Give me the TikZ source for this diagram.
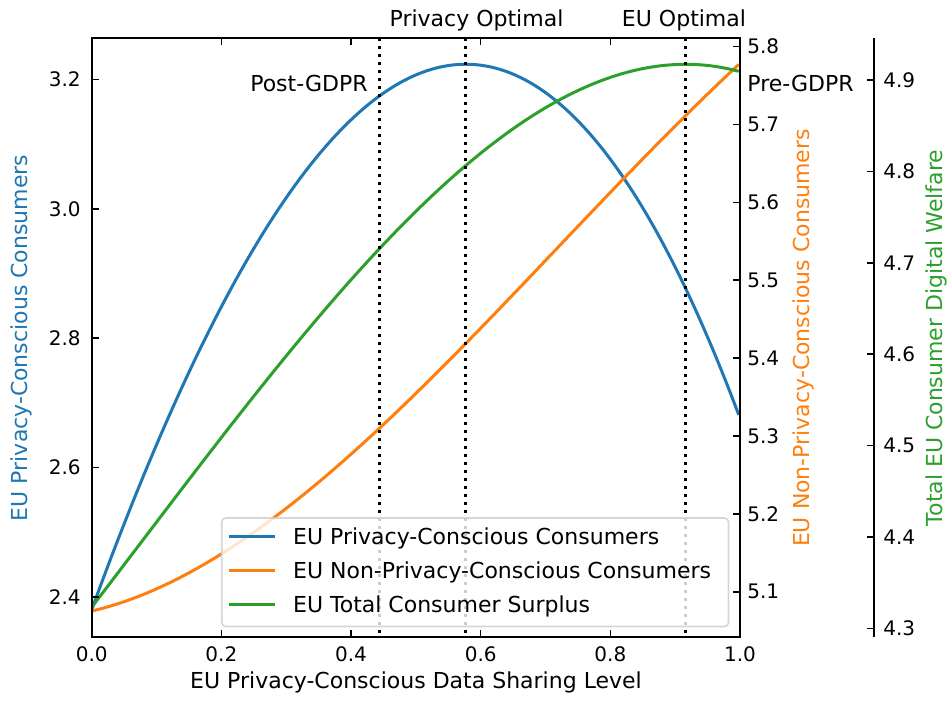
\documentclass[tikz,border=0pt]{standalone}
\usepackage{fontspec}
\setmainfont{DejaVu Sans}
\definecolor{mblue}{HTML}{1F77B4}
\definecolor{morange}{HTML}{FF7F0E}
\definecolor{mgreen}{HTML}{2CA02C}
\definecolor{legedge}{HTML}{CCCCCC}
\begin{document}
\begin{tikzpicture}[x=0.5pt,y=-0.5pt,
  declare function={
    fb(\t)=2.38+2.7487*\t-1.9261*\t*\t-0.5266*\t*\t*\t;
    fo(\t)=5.0752+0.1943*\t+0.9493*\t*\t-0.4401*\t*\t*\t;
    foa(\t)=5.0658+0.238*\t+0.8857*\t*\t-0.4108*\t*\t*\t;
    fg(\t)=0.278*fb(\t)+0.722*foa(\t)+0.004-0.011*\t;
    px(\t)=91.7+648.3*\t;
  },
  spine/.style={line width=0.8pt},
  tickmark/.style={line width=0.8pt},
  ticklab/.style={font=\fontsize{10}{12}\selectfont, inner sep=0pt},
  biglab/.style={font=\fontsize{11}{13}\selectfont, inner sep=0pt},
  curve/.style={line width=1.5pt, line join=round},
  vline/.style={line width=1.5pt, dash pattern=on 1.5pt off 2.5pt},
  legendframe/.style={draw=legedge, line width=0.8pt, fill=white, opacity=0.8, rounded corners=2pt},
]
\useasboundingbox (0,0) rectangle (952,701);

% curves
\begin{scope}
\clip (91.7,38) rectangle (740,637);
\draw[curve, mblue] plot[domain=0:1, samples=150] ({px(\x)},{596.7-(fb(\x)-2.4)*646.5});
\draw[curve, morange] plot[domain=0:1, samples=150] ({px(\x)},{591.7-(fo(\x)-5.1)*778.6});
\draw[curve, mgreen] plot[domain=0:1, samples=150] ({px(\x)},{628.3-(fg(\x)-4.3)*913.8});
\end{scope}

% vertical dotted lines
\coordinate (postT) at (379.3,38);  \coordinate (postB) at (379.3,637);
\coordinate (privT) at (465.3,38);  \coordinate (privB) at (465.3,637);
\coordinate (euT) at (685.8,38);    \coordinate (euB) at (685.8,637);
\draw[vline] (postT) -- (postB);
\draw[vline] (privT) -- (privB);
\draw[vline] (euT) -- (euB);

% frame
\draw[spine] (91.7,38) rectangle (740,637);
\draw[spine] (874,38) -- (874,637);

% x ticks
\foreach \i/\lab in {0/0.0,1/0.2,2/0.4,3/0.6,4/0.8,5/1.0}{
  \pgfmathsetmacro\xx{91.7+129.66*\i}
  \draw[tickmark] (\xx,637) -- (\xx,630);
  \draw[tickmark] (\xx,38) -- (\xx,45);
  \node[ticklab, anchor=base] (xt\i) at (\xx,661.3) {\lab};
}
% left ticks
\foreach \i/\lab in {0/2.4,1/2.6,2/2.8,3/3.0,4/3.2}{
  \pgfmathsetmacro\yy{596.7-129.3*\i}
  \draw[tickmark] (91.7,\yy) -- (98.7,\yy);
  \node[ticklab, anchor=east] (lt\i) at (81,\yy) {\lab};
}
% orange ticks
\foreach \i/\lab in {0/5.1,1/5.2,2/5.3,3/5.4,4/5.5,5/5.6,6/5.7,7/5.8}{
  \pgfmathsetmacro\yy{591.7-77.86*\i}
  \draw[tickmark] (740,\yy) -- (733,\yy);
  \node[ticklab, anchor=west] (ot\i) at (747,\yy) {\lab};
}
% green ticks
\foreach \i/\lab in {0/4.3,1/4.4,2/4.5,3/4.6,4/4.7,5/4.8,6/4.9}{
  \pgfmathsetmacro\yy{628.3-91.38*\i}
  \draw[tickmark] (874,\yy) -- (867,\yy);
  \node[ticklab, anchor=west] (gt\i) at (883,\yy) {\lab};
}

% axis labels
\node[biglab, anchor=base] (xlab) at (416,688.5) {EU Privacy-Conscious Data Sharing Level};
\node[biglab, rotate=90, text=mblue] (ylab) at (21,338) {EU Privacy-Conscious Consumers};
\node[biglab, rotate=90, text=morange] (olab) at (803,338) {EU Non-Privacy-Conscious Consumers};
\node[biglab, rotate=90, text=mgreen] (glab) at (936.5,338) {Total EU Consumer Digital Welfare};

% annotations
\node[biglab, anchor=base] (privlab) at (476.5,26.3) {Privacy Optimal};
\node[biglab, anchor=base] (eulab) at (684,26.3) {EU Optimal};
\node[biglab, anchor=base east] (postlab) at (368,91.5) {Post-GDPR};
\node[biglab, anchor=base west] (prelab) at (747,91.5) {Pre-GDPR};

% legend
\draw[legendframe] (221.7,518) rectangle (728.5,626.5);
\coordinate (lb1) at (229.3,536); \coordinate (lb2) at (275,536);
\coordinate (lo1) at (229.3,570); \coordinate (lo2) at (275,570);
\coordinate (lg1) at (229.3,604); \coordinate (lg2) at (275,604);
\draw[curve, mblue] (lb1) -- (lb2);
\draw[curve, morange] (lo1) -- (lo2);
\draw[curve, mgreen] (lg1) -- (lg2);
\node[biglab, anchor=base west] (leg1) at (292.7,544) {EU Privacy-Conscious Consumers};
\node[biglab, anchor=base west] (leg2) at (292.7,578.5) {EU Non-Privacy-Conscious Consumers};
\node[biglab, anchor=base west] (leg3) at (292.7,612.5) {EU Total Consumer Surplus};
\end{tikzpicture}
\end{document}
